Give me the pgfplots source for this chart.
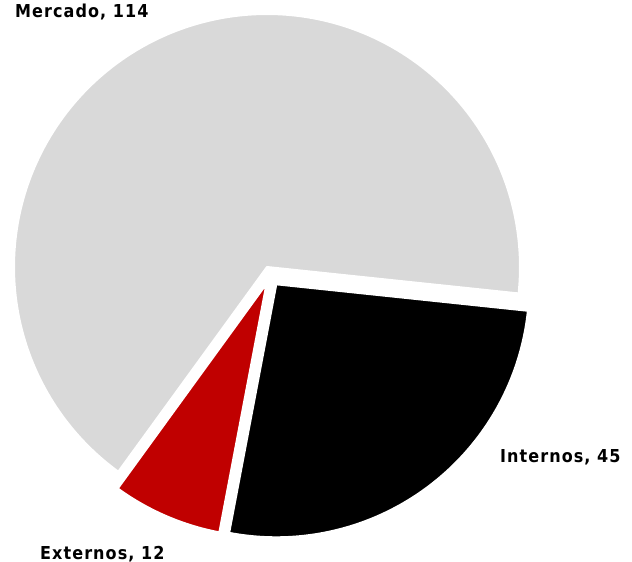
\documentclass[border=0pt]{standalone}
\usepackage{pgfplots}
\pgfplotsset{compat=1.18}
\usepackage{pgfplotstable}
\usepackage{fontspec}
\setmainfont{DejaVu Sans}
\newfontfamily\lblfont{DejaVu Sans}[FakeStretch=0.9,LetterSpace=6]
\definecolor{pgray}{HTML}{D9D9D9}
\definecolor{pred}{HTML}{C00000}
% value, and the centre of each slice (exploded slices are offset)
\pgfplotstableread{
label value cx cy
Mercado 114 267 295
Externos 12 266.5 278.2
Internos 45 276.3 277.7
}\piedata
\begin{document}
\begin{tikzpicture}
\pgfplotstablegetelem{0}{value}\of\piedata \let\vA\pgfplotsretval
\pgfplotstablegetelem{1}{value}\of\piedata \let\vB\pgfplotsretval
\pgfplotstablegetelem{2}{value}\of\piedata \let\vC\pgfplotsretval
\pgfplotstablegetelem{0}{cx}\of\piedata \let\ax\pgfplotsretval
\pgfplotstablegetelem{0}{cy}\of\piedata \let\ay\pgfplotsretval
\pgfplotstablegetelem{1}{cx}\of\piedata \let\bx\pgfplotsretval
\pgfplotstablegetelem{1}{cy}\of\piedata \let\by\pgfplotsretval
\pgfplotstablegetelem{2}{cx}\of\piedata \let\ccx\pgfplotsretval
\pgfplotstablegetelem{2}{cy}\of\piedata \let\ccy\pgfplotsretval
\pgfmathsetmacro{\tot}{\vA+\vB+\vC}
\pgfmathsetmacro{\aA}{-6}
\pgfmathsetmacro{\aB}{\aA+\vA/\tot*360}
\pgfmathsetmacro{\aC}{\aB+\vB/\tot*360}
\pgfmathsetmacro{\aD}{\aC+\vC/\tot*360}
\pgfmathsetmacro{\pieR}{253}
\begin{axis}[hide axis, scale only axis, width=632bp, height=562bp,
  xmin=0, xmax=632, ymin=0, ymax=562, clip=false, anchor=south west, at={(0,0)}]
\addplot[draw=white, line width=2bp, line join=round, fill=pgray, domain=\aA:\aB, samples=200, variable=\t]
  ({\ax+\pieR*cos(\t)},{\ay+\pieR*sin(\t)}) -- (axis cs:\ax,\ay) -- cycle;
\addplot[draw=white, line width=2bp, line join=round, fill=pred, domain=\aB:\aC, samples=40, variable=\t]
  ({\bx+\pieR*cos(\t)},{\by+\pieR*sin(\t)}) -- (axis cs:\bx,\by) -- cycle;
\addplot[draw=white, line width=2bp, line join=round, fill=black, domain=\aC:\aD, samples=100, variable=\t]
  ({\ccx+\pieR*cos(\t)},{\ccy+\pieR*sin(\t)}) -- (axis cs:\ccx,\ccy) -- cycle;
\node[anchor=base west, inner sep=0, font=\lblfont\bfseries\fontsize{17.8bp}{20bp}\selectfont] at (axis cs:15,544) {Mercado, 114};
\node[anchor=base west, inner sep=0, font=\lblfont\bfseries\fontsize{17.8bp}{20bp}\selectfont] at (axis cs:500,99) {Internos, 45};
\node[anchor=base west, inner sep=0, font=\lblfont\bfseries\fontsize{17.8bp}{20bp}\selectfont] at (axis cs:40,3) {Externos, 12};
\end{axis}
\pgfresetboundingbox
\path[use as bounding box] (0,0) rectangle (632bp,562bp);
\end{tikzpicture}
\end{document}
